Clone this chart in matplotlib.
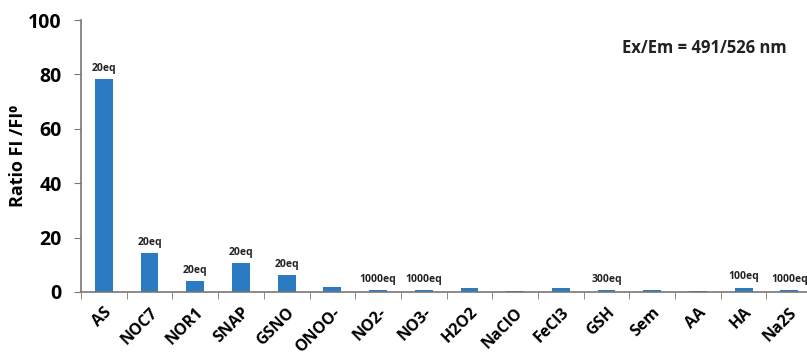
import matplotlib
matplotlib.use('Agg')
import matplotlib.pyplot as plt
import numpy as np

names  = ['AS', 'NOC7', 'NOR1', 'SNAP', 'GSNO', 'ONOO-', 'NO2-', 'NO3-',
          'H2O2', 'NaClO', 'FeCl3', 'GSH', 'Sem', 'AA', 'HA', 'Na2S']
ratio  = [78.3, 14.3, 4.0, 10.6, 6.2, 1.7, 0.7, 0.7,
          1.5, 0.4, 1.5, 0.7, 0.7, 0.4, 1.5, 0.7]
eq     = ['20eq', '20eq', '20eq', '20eq', '20eq', '', '1000eq', '1000eq',
          '', '', '', '300eq', '', '', '100eq', '1000eq']
yticks = [0, 20, 40, 60, 80, 100]

plt.rcParams['font.family'] = ['Open Sans', 'DejaVu Sans']

fig = plt.figure(figsize=(8.07, 3.55), dpi=100)
ax = fig.add_axes([0.1004, 0.1775, 0.906, 0.766])

x = np.arange(len(names))
ax.bar(x, ratio, width=0.39, color='#2b7bc3')

for xi, v, lab in zip(x, ratio, eq):
    if lab:
        ax.text(xi, v + 2.0, lab, ha='center', va='bottom',
                fontsize=7.5, fontweight='bold', color='#222222')

ax.set_xlim(-0.5, len(names) - 0.5)
ax.set_ylim(0, 100)
ax.set_yticks(yticks)
ax.set_yticklabels([str(t) for t in yticks], fontsize=14, fontweight='bold')
ax.set_xticks(x)
ax.set_xticklabels(names, rotation=45, ha='right', rotation_mode='anchor',
                   fontsize=11.5, fontweight='bold')
ax.set_xticks(np.arange(len(names) + 1) - 0.5, minor=True)
ax.tick_params(axis='x', which='major', length=0, pad=9)
ax.tick_params(axis='x', which='minor', length=5, direction='out', color='#777777')
ax.tick_params(axis='y', length=5, direction='out', color='#777777', pad=9)

for s in ['top', 'right']:
    ax.spines[s].set_visible(False)
for s in ['left', 'bottom']:
    ax.spines[s].set_color('#777777')
    ax.spines[s].set_linewidth(1.2)

ax.set_ylabel('Ratio FI /FI\u2070', fontsize=13, fontweight='bold', labelpad=1)

ax.text(0.852, 0.897, 'Ex/Em = 491/526 nm', transform=ax.transAxes,
        ha='center', va='center', fontsize=12, fontweight='bold', color='#222222')

fig.savefig('out.png', dpi=100)
